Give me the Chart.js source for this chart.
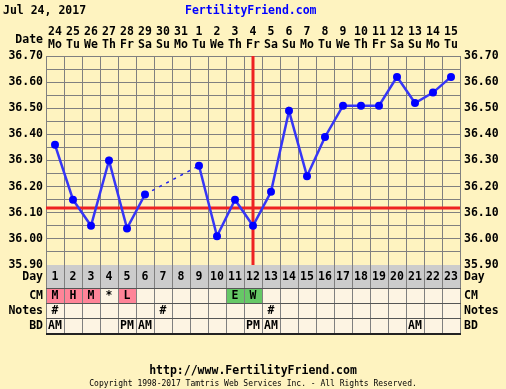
<!DOCTYPE html>
<html>
<head>
<meta charset="utf-8">
<script src="https://cdn.jsdelivr.net/npm/chart.js@4"></script>
<style>
  html, body { margin: 0; padding: 0; background: #FEF3C0; }
  #c { display: block; }
</style>
</head>
<body>
<canvas id="c" width="506" height="389"></canvas>
<script>
// ---- data ----
const cycleDays = ['1','2','3','4','5','6','7','8','9','10','11','12','13','14','15','16','17','18','19','20','21','22','23'];
const dates = ['24','25','26','27','28','29','30','31','1','2','3','4','5','6','7','8','9','10','11','12','13','14','15'];
const weekdays = ['Mo','Tu','We','Th','Fr','Sa','Su','Mo','Tu','We','Th','Fr','Sa','Su','Mo','Tu','We','Th','Fr','Sa','Su','Mo','Tu'];
const temps = [36.36, 36.15, 36.05, 36.30, 36.04, 36.17, null, null, 36.28, 36.01, 36.15, 36.05, 36.18, 36.49, 36.24, 36.39, 36.51, 36.51, 36.51, 36.62, 36.52, 36.56, 36.62];
const coverline = 36.12;
const ovulationDay = 12;
const cmCodes = ['M','H','M','*','L','','','','','','E','W','','','','','','','','','','',''];
const notes = ['#','','','','','','#','','','','','','#','','','','','','','','','',''];
const bd = ['AM','','','','PM','AM','','','','','','PM','AM','','','','','','','','AM','',''];
const yTickValues = [35.90, 35.95, 36.00, 36.05, 36.10, 36.15, 36.20, 36.25, 36.30, 36.35, 36.40, 36.45, 36.50, 36.55, 36.60, 36.65, 36.70];
const chartDate = 'Jul 24, 2017';
const siteName = 'FertilityFriend.com';
const siteUrl = 'http://www.FertilityFriend.com';
const copyright = 'Copyright 1998-2017 Tamtris Web Services Inc. - All Rights Reserved.';

// dashed connector across missing days
const gapLine = temps.map(() => null);
for (let i = 0; i < temps.length - 1; i++) {
  if (temps[i] !== null && temps[i + 1] === null) {
    let j = i + 1;
    while (j < temps.length && temps[j] === null) j++;
    if (j < temps.length) { gapLine[i] = temps[i]; gapLine[j] = temps[j]; }
  }
}

const FONT = '"DejaVu Sans Mono", monospace';
const BG = '#FEF3C0';
const GRID = '#808080';
const pinkCodes = ['M','H','L'];
const greenCodes = ['E','W'];

const bgPlugin = {
  id: 'bg',
  beforeDraw(chart) {
    const ctx = chart.ctx;
    ctx.save();
    ctx.fillStyle = BG;
    ctx.fillRect(0, 0, chart.width, chart.height);
    ctx.restore();
  },
  beforeDatasetsDraw(chart) {
    const ctx = chart.ctx;
    const x = chart.scales.x, y = chart.scales.y;
    const a = chart.chartArea;
    ctx.save();
    ctx.strokeStyle = '#EE2222';
    ctx.lineWidth = 3;
    const cy = Math.round(y.getPixelForValue(coverline));
    ctx.beginPath(); ctx.moveTo(a.left, cy); ctx.lineTo(a.right, cy); ctx.stroke();
    const ox = Math.round(x.getPixelForValue(ovulationDay - 1));
    ctx.beginPath(); ctx.moveTo(ox, a.top); ctx.lineTo(ox, a.bottom); ctx.stroke();
    ctx.restore();
  },
  afterDraw(chart) {
    const ctx = chart.ctx;
    const x = chart.scales.x;
    const a = chart.chartArea;
    const colW = x.getPixelForValue(1) - x.getPixelForValue(0);
    const rows = [
      {label: 'Day', top: 265, bottom: 288},
      {label: 'CM', top: 288, bottom: 303},
      {label: 'Notes', top: 303, bottom: 318},
      {label: 'BD', top: 318, bottom: 333}
    ];
    ctx.save();
    // fills
    for (let i = 0; i < cycleDays.length; i++) {
      const l = Math.round(x.getPixelForValue(i) - colW / 2);
      const r = Math.round(x.getPixelForValue(i) + colW / 2);
      ctx.fillStyle = '#CCCCCC';
      ctx.fillRect(l, rows[0].top, r - l, rows[0].bottom - rows[0].top);
      let cmFill = '#FDF4E3';
      if (pinkCodes.includes(cmCodes[i])) cmFill = '#FF8498';
      if (greenCodes.includes(cmCodes[i])) cmFill = '#66C866';
      ctx.fillStyle = cmFill;
      ctx.fillRect(l, rows[1].top, r - l, rows[1].bottom - rows[1].top);
      ctx.fillStyle = '#FDF4E3';
      ctx.fillRect(l, rows[2].top, r - l, rows[3].bottom - rows[2].top);
    }
    // grid lines
    ctx.strokeStyle = GRID;
    ctx.lineWidth = 1;
    for (let i = 0; i <= cycleDays.length; i++) {
      const px = Math.round(x.getPixelForValue(i) - colW / 2) + 0.5;
      ctx.beginPath(); ctx.moveTo(px, rows[0].top); ctx.lineTo(px, rows[3].bottom); ctx.stroke();
    }
    ctx.strokeStyle = '#555555';
    rows.forEach((r, k) => {
      ctx.beginPath(); ctx.moveTo(a.left, r.bottom + 0.5); ctx.lineTo(a.right + 1, r.bottom + 0.5); ctx.stroke();
    });
    ctx.strokeStyle = '#222222';
    ctx.lineWidth = 2;
    ctx.beginPath(); ctx.moveTo(a.left, rows[3].bottom + 1); ctx.lineTo(a.right + 1, rows[3].bottom + 1); ctx.stroke();
    // texts
    ctx.fillStyle = '#000';
    ctx.font = 'bold 11.5px ' + FONT;
    ctx.textBaseline = 'middle';
    rows.forEach(r => {
      const cy = (r.top + r.bottom) / 2 + 1;
      ctx.textAlign = 'right';
      ctx.fillText(r.label, 43, cy);
      ctx.textAlign = 'left';
      ctx.fillText(r.label, 464, cy);
    });
    ctx.textAlign = 'center';
    for (let i = 0; i < cycleDays.length; i++) {
      const cx = x.getPixelForValue(i);
      ctx.fillText(cycleDays[i], cx, (rows[0].top + rows[0].bottom) / 2 + 1);
      if (cmCodes[i]) ctx.fillText(cmCodes[i], cx, (rows[1].top + rows[1].bottom) / 2 + 1);
      if (notes[i]) ctx.fillText(notes[i], cx, (rows[2].top + rows[2].bottom) / 2 + 1);
      if (bd[i]) ctx.fillText(bd[i], cx, (rows[3].top + rows[3].bottom) / 2 + 1);
    }
    // header texts
    ctx.textAlign = 'left';
    ctx.fillText(chartDate, 3, 11);
    ctx.fillStyle = '#0000FF';
    ctx.fillText(siteName, 185, 11);
    ctx.fillStyle = '#000';
    ctx.textAlign = 'right';
    ctx.fillText('Date', 43, 40);
    // footer
    ctx.textAlign = 'center';
    ctx.fillText(siteUrl, 253, 371);
    ctx.font = '8px ' + FONT;
    ctx.fillText(copyright, 253, 384);
    ctx.restore();
  }
};

const yTicksCb = (v, i) => (i % 2 === 0 ? Number(v).toFixed(2) : '');

new Chart(document.getElementById('c'), {
  type: 'line',
  data: {
    labels: cycleDays,
    datasets: [
      {
        data: temps,
        borderColor: '#3636F6',
        borderWidth: 2.5,
        pointRadius: 4,
        pointHoverRadius: 4,
        pointBackgroundColor: '#0000FF',
        pointBorderWidth: 0,
        spanGaps: false,
        tension: 0,
        order: 1
      },
      {
        data: gapLine,
        borderColor: '#2222EE',
        borderWidth: 1.5,
        borderDash: [3, 5],
        pointRadius: 0,
        spanGaps: true,
        tension: 0,
        order: 2
      }
    ]
  },
  options: {
    responsive: false,
    animation: false,
    devicePixelRatio: 1,
    events: [],
    layout: { padding: { top: 0, left: 0, right: 0, bottom: 124 } },
    plugins: { legend: { display: false }, tooltip: { enabled: false }, title: { display: false } },
    scales: {
      x: {
        type: 'category',
        position: 'top',
        offset: true,
        grid: { offset: true, color: GRID, lineWidth: 1, drawTicks: false },
        border: { display: true, color: GRID },
        ticks: {
          autoSkip: false, maxRotation: 0, minRotation: 0,
          padding: 4,
          color: '#000',
          font: { family: FONT, size: 11.5, weight: 'bold', lineHeight: 1.13 },
          callback: (v, i) => [dates[i], weekdays[i]]
        },
        afterFit: s => { s.height = 56; }
      },
      y: {
        position: 'left',
        min: 35.9, max: 36.7,
        grid: { color: GRID, lineWidth: 1, drawTicks: false },
        border: { display: true, color: GRID },
        afterBuildTicks: s => { s.ticks = yTickValues.map(v => ({ value: v })); },
        ticks: {
          autoSkip: false, padding: 3, color: '#000',
          font: { family: FONT, size: 11.5, weight: 'bold' },
          callback: yTicksCb
        },
        afterFit: s => { s.width = 46; }
      },
      y2: {
        position: 'right',
        min: 35.9, max: 36.7,
        grid: { drawOnChartArea: false, drawTicks: false },
        border: { display: true, color: GRID },
        afterBuildTicks: s => { s.ticks = yTickValues.map(v => ({ value: v })); },
        ticks: {
          autoSkip: false, padding: 4, color: '#000',
          font: { family: FONT, size: 11.5, weight: 'bold' },
          callback: yTicksCb
        },
        afterFit: s => { s.width = 46; }
      }
    }
  },
  plugins: [bgPlugin]
});
</script>
</body>
</html>
